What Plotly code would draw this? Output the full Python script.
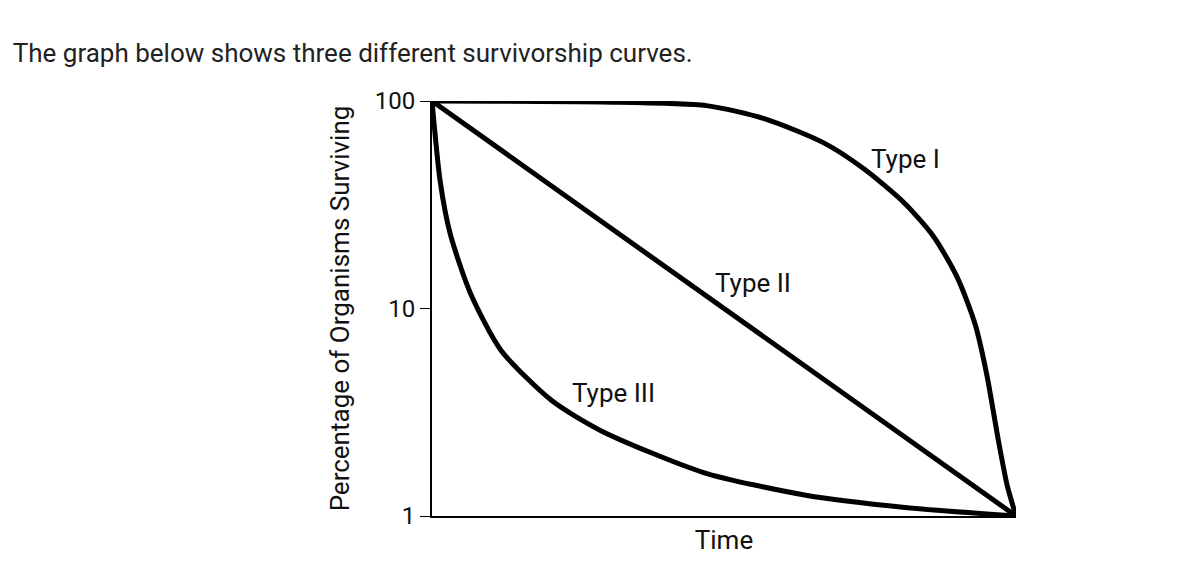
import math
import plotly.graph_objects as go

type1_t = [0, 0.29, 0.47, 0.57, 0.67, 0.74, 0.81, 0.86, 0.9, 0.93, 0.95, 0.97, 0.985, 1.0]
type1_y = [100, 99, 95, 82, 63, 47, 32, 22, 14, 8.4, 4.8, 2.3, 1.4, 1]
type2_t = [0, 1]
type2_y = [100, 1]
type3_t = [0, 0.014, 0.031, 0.066, 0.118, 0.205, 0.29, 0.465, 0.64, 0.81, 1.0]
type3_y = [100, 41, 23, 11.8, 6.3, 3.6, 2.57, 1.62, 1.26, 1.1, 1]
labels = ["Type I", "Type II", "Type III"]
label_pos = [(0.81, 52.5), (0.55, 13.2), (0.31, 3.9)]

fig = go.Figure()
for t, y in [(type1_t, type1_y), (type2_t, type2_y), (type3_t, type3_y)]:
    fig.add_trace(go.Scatter(x=t, y=y, mode="lines", line=dict(color="black", width=5, shape="spline", smoothing=0.7),
                             cliponaxis=False, showlegend=False, hoverinfo="skip"))

# log axis: annotation y is given in log10 units
for name, (x, y) in zip(labels, label_pos):
    fig.add_annotation(x=x, y=math.log10(y), xref="x", yref="y", text=name, showarrow=False,
                       font=dict(family="Roboto", size=26, color="#111"))

fig.update_xaxes(range=[0, 1.0], showticklabels=False, ticks="", showgrid=False, zeroline=False,
                 showline=True, linecolor="black", linewidth=2, title=dict(text="Time", standoff=14),
                 title_font=dict(family="Roboto", size=26, color="#111"))
fig.update_yaxes(type="log", range=[0, 2], tickvals=[1, 10, 100], ticktext=["1", "10", "100"], ticks="outside",
                 ticklen=10, tickcolor="black", showgrid=False, zeroline=False, showline=True, linecolor="black",
                 linewidth=2, tickfont=dict(family="Roboto", size=24, color="#111"),
                 title=dict(text="Percentage of Organisms Surviving", standoff=18),
                 title_font=dict(family="Roboto", size=26, color="#111"))
fig.update_layout(width=1184, height=568, margin=dict(l=424, r=176, t=93, b=60),
                  title=dict(text="The graph below shows three different survivorship curves.",
                             x=0.004, xanchor="left", y=1 - 45 / 568, yanchor="middle",
                             font=dict(family="Roboto", size=26, color="#222")),
                  plot_bgcolor="white", paper_bgcolor="white", font=dict(family="Roboto"))
fig.write_html("out.html")
